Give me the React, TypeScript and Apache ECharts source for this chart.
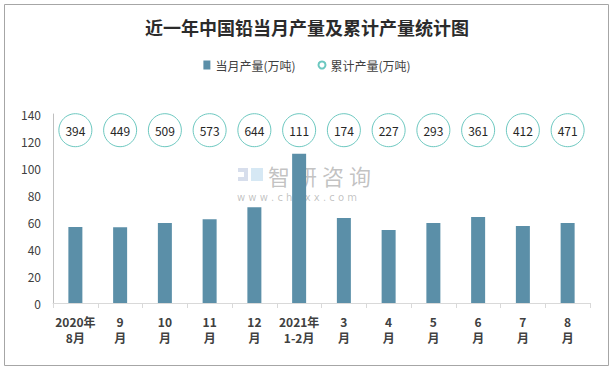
import React, { useEffect, useRef } from "react";
import * as echarts from "echarts";

const categories = ["2020年\n8月", "9\n月", "10\n月", "11\n月", "12\n月", "2021年\n1-2月", "3\n月", "4\n月", "5\n月", "6\n月", "7\n月", "8\n月"];
const monthly = [56.3, 56.2, 59.3, 62.1, 71.0, 110.5, 63.0, 54.0, 59.3, 63.7, 57.0, 59.3];
const cumulative = [394, 449, 509, 573, 644, 111, 174, 227, 293, 361, 412, 471];
const yTicks = { min: 0, max: 140, interval: 20 };

const CIRCLE_Y = 128;

export default function App() {
  const ref = useRef<HTMLDivElement>(null);
  useEffect(() => {
    document.body.style.margin = "0";
    const chart = echarts.init(ref.current!, null, { renderer: "svg" });
    const font = "'Microsoft YaHei', 'Noto Sans CJK SC', sans-serif";
    const wm = "rgba(120,120,120,0.45)";
    chart.setOption({
      animation: false,
      backgroundColor: "#ffffff",
      textStyle: { fontFamily: font },
      title: {
        text: "近一年中国铅当月产量及累计产量统计图",
        left: "center",
        top: 13,
        textStyle: { fontSize: 18, fontWeight: "bold", color: "#2b2b2b", fontFamily: "'Noto Sans CJK SC', serif" },
      },
      legend: {
        top: 54,
        left: "center",
        itemGap: 22,
        itemWidth: 7,
        itemHeight: 9,
        textStyle: { fontSize: 12, color: "#404040", fontFamily: font },
        data: [
          { name: "当月产量(万吨)", icon: "rect" },
          { name: "累计产量(万吨)", icon: "circle" },
        ],
      },
      grid: { left: 53, right: 24, top: 114, bottom: 67 },
      xAxis: {
        type: "category",
        data: categories,
        axisLine: { lineStyle: { color: "#D9D9D9" } },
        axisTick: { show: true, length: 5, lineStyle: { color: "#D9D9D9" } },
        axisLabel: {
          interval: 0,
          fontSize: 12,
          fontWeight: "bold",
          color: "#404040",
          lineHeight: 16,
          margin: 10,
          fontFamily: font,
        },
      },
      yAxis: {
        type: "value",
        min: yTicks.min,
        max: yTicks.max,
        interval: yTicks.interval,
        axisLine: { show: true, lineStyle: { color: "#BFBFBF" } },
        axisTick: { show: false },
        splitLine: { show: false },
        axisLabel: { fontSize: 12, color: "#404040", margin: 12, fontFamily: font },
      },
      graphic: [
        {
          type: "rect",
          shape: { x: 4.5, y: 4.5, width: 604, height: 361 },
          style: { fill: "none", stroke: "#A6A6A6", lineWidth: 1 },
          silent: true,
        },
        {
          type: "group",
          z: 100,
          silent: true,
          children: [
            { type: "rect", shape: { x: 238, y: 168, width: 10, height: 4 }, style: { fill: "rgba(140,160,200,0.35)" } },
            { type: "rect", shape: { x: 244, y: 172, width: 4, height: 5 }, style: { fill: "rgba(140,160,200,0.35)" } },
            { type: "rect", shape: { x: 238, y: 177, width: 10, height: 4 }, style: { fill: "rgba(140,160,200,0.35)" } },
            { type: "rect", shape: { x: 251, y: 168, width: 12, height: 13 }, style: { fill: "rgba(120,180,220,0.3)" } },
            { type: "text", x: 268, y: 164, style: { text: "智", fontSize: 22, fill: wm, fontFamily: "'Noto Sans CJK SC', sans-serif" } },
            { type: "text", x: 295, y: 164, style: { text: "研", fontSize: 22, fill: wm, fontFamily: "'Noto Sans CJK SC', sans-serif" } },
            { type: "text", x: 322, y: 164, style: { text: "咨", fontSize: 22, fill: wm, fontFamily: "'Noto Sans CJK SC', sans-serif" } },
            { type: "text", x: 349, y: 164, style: { text: "询", fontSize: 22, fill: wm, fontFamily: "'Noto Sans CJK SC', sans-serif" } },
            {
              type: "text",
              x: 237,
              y: 192,
              style: { text: "w w w . c h y x x . c o m", fontSize: 10, fill: wm, fontFamily: "'DejaVu Sans', sans-serif" },
            },
          ],
        },
      ],
      series: [
        {
          name: "当月产量(万吨)",
          type: "bar",
          data: monthly,
          barWidth: 14,
          itemStyle: { color: "#5B8FA8" },
        },
        {
          name: "累计产量(万吨)",
          type: "scatter",
          data: cumulative.map(() => CIRCLE_Y),
          symbol: "circle",
          symbolSize: 33,
          itemStyle: { color: "#ffffff", borderColor: "#6CC8C0", borderWidth: 1, opacity: 1 },
          label: {
            show: true,
            position: "inside",
            formatter: (p: any) => String(cumulative[p.dataIndex]),
            fontSize: 12,
            color: "#262626",
            fontFamily: font,
          },
          z: 5,
        },
      ],
    });
    return () => chart.dispose();
  }, []);
  return <div ref={ref} style={{ width: 614, height: 370 }} />;
}
